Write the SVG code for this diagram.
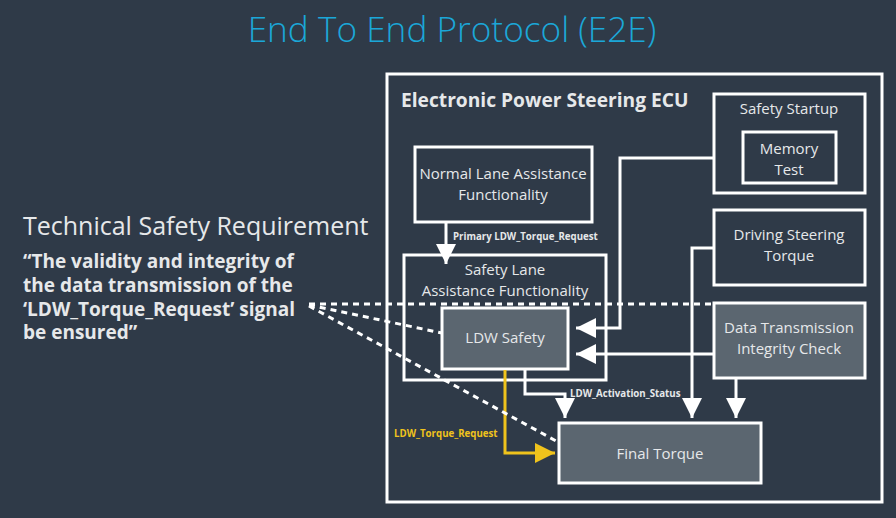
<svg xmlns="http://www.w3.org/2000/svg" width="896" height="518" viewBox="0 0 896 518">
<defs>
<style>
.t{font-family:"Open Sans","Noto Sans","Liberation Sans",sans-serif;fill:#e6e8ea}
.n{font-size:15px;text-anchor:middle}
.box{fill:none;stroke:#ffffff;stroke-width:3}
.gbox{fill:#5b6670;stroke:#ffffff;stroke-width:3}
.ln{fill:none;stroke:#ffffff;stroke-width:3}
.dash{fill:none;stroke:#ffffff;stroke-width:3;stroke-dasharray:6 5}
.lbl{font-size:9.7px;font-weight:bold}
</style>
<marker id="ah" viewBox="0 0 10 10" refX="10" refY="5" markerWidth="6.7" markerHeight="6.7" markerUnits="strokeWidth" orient="auto"><path d="M0,0 L10,5 L0,10 z" fill="#ffffff"/></marker>
<marker id="ay" viewBox="0 0 10 10" refX="10" refY="5" markerWidth="6.7" markerHeight="6.7" markerUnits="strokeWidth" orient="auto"><path d="M0,0 L10,5 L0,10 z" fill="#f0c31c"/></marker>
</defs>
<rect width="896" height="518" fill="#2f3a48"/>
<text x="452" y="42" font-size="35.2" font-weight="300" text-anchor="middle" class="t" style="fill:#1ba7d8">End To End Protocol (E2E)</text>

<g id="requirement">
<text x="23" y="235" font-size="25" class="t">Technical Safety Requirement</text>
<text class="t" font-size="19" font-weight="bold">
<tspan x="23" y="268">“The validity and integrity of</tspan>
<tspan x="23" y="292">the data transmission of the</tspan>
<tspan x="23" y="315.5">‘LDW_Torque_Request’ signal</tspan>
<tspan x="23" y="339">be ensured”</tspan>
</text>
</g>

<g id="ecu">
<rect x="387" y="74" width="495" height="428" class="box"/>
<text x="401" y="107" font-size="19.2" font-weight="bold" class="t">Electronic Power Steering ECU</text>
</g>

<g id="safety-startup">
<rect x="714" y="94" width="151" height="99" class="box"/>
<text x="789" y="114" class="t n">Safety Startup</text>
</g>
<g id="memory-test">
<rect x="743" y="132" width="93" height="51" class="box"/>
<text class="t n"><tspan x="789" y="154">Memory</tspan><tspan x="789" y="174.6">Test</tspan></text>
</g>
<g id="normal-lane">
<rect x="415" y="147" width="177" height="75" class="box"/>
<text class="t n"><tspan x="503" y="179">Normal Lane Assistance</tspan><tspan x="503" y="199.6">Functionality</tspan></text>
</g>
<g id="driving-steering">
<rect x="714" y="210" width="151" height="75" class="box"/>
<text class="t n"><tspan x="789" y="240">Driving Steering</tspan><tspan x="789" y="260.6">Torque</tspan></text>
</g>
<g id="safety-lane">
<rect x="404" y="255" width="202" height="125" class="box"/>
<text class="t n"><tspan x="505" y="275">Safety Lane</tspan><tspan x="505" y="295.6">Assistance Functionality</tspan></text>
</g>
<g id="ldw-safety">
<rect x="442" y="308" width="126" height="61" class="gbox"/>
<text x="505" y="343" class="t n">LDW Safety</text>
</g>
<g id="data-transmission">
<rect x="714" y="303" width="151" height="75" class="gbox"/>
<text class="t n"><tspan x="789" y="333">Data Transmission</tspan><tspan x="789" y="353.6">Integrity Check</tspan></text>
</g>
<g id="final-torque">
<rect x="559" y="423" width="202" height="60" class="gbox"/>
<text x="660" y="459" class="t n">Final Torque</text>
</g>

<g id="connectors">
<path d="M446,223 V264" class="ln" marker-end="url(#ah)"/>
<text x="453" y="240" class="t lbl">Primary LDW_Torque_Request</text>
<path d="M713,158 H620 V328 H576" class="ln" marker-end="url(#ah)"/>
<path d="M713,354 H576" class="ln" marker-end="url(#ah)"/>
<path d="M713,248 H692 V418" class="ln" marker-end="url(#ah)"/>
<path d="M736,378 V418" class="ln" marker-end="url(#ah)"/>
<path d="M525,370 V394 H565 V418" class="ln" marker-end="url(#ah)"/>
<text x="570" y="397" class="t lbl">LDW_Activation_Status</text>
<path d="M505,370 V453 H555" fill="none" stroke="#f0c31c" stroke-width="3" marker-end="url(#ay)"/>
<text x="394" y="437" class="lbl" font-family="Open Sans,Noto Sans,Liberation Sans,sans-serif" fill="#f0c31c">LDW_Torque_Request</text>
<path d="M309,304 L320,304 H713" class="dash"/>
<path d="M309,305 L442,333" class="dash"/>
<path d="M309,306 L558,442" class="dash"/>
</g>
</svg>
